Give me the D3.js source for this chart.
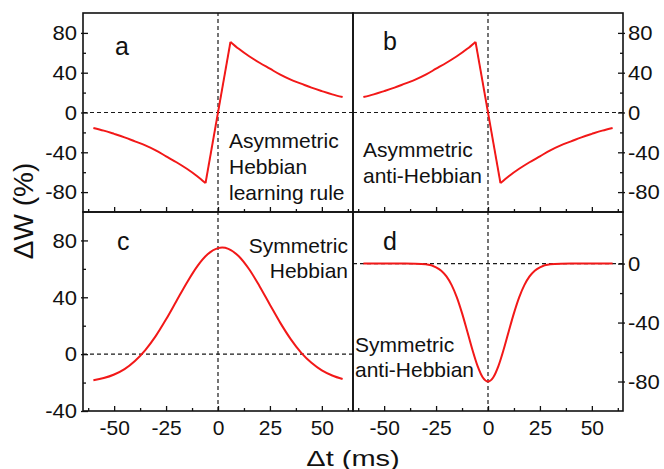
<!DOCTYPE html>
<html>
<head>
<meta charset="utf-8">
<script src="https://cdn.jsdelivr.net/npm/d3@7"></script>
<style>
  body { margin: 0; background: #fff; }
</style>
</head>
<body>
<svg id="chart" width="664" height="469"></svg>
<script>
"use strict";

// time axis (ms) for the two asymmetric rules, jump around zero
const ASYM_DT = [-60, -55, -50, -45, -40, -35, -30, -25, -20, -15, -10, -6, 6, 10, 15, 20, 25, 30, 35, 40, 45, 50, 55, 60];
// panel a: asymmetric Hebbian
const HEBB_DW = [-15.5, -18.2, -21.5, -25, -29, -33, -38, -44, -50, -56.5, -64, -71, 71, 64, 56.5, 50, 44, 38, 33, 29, 25, 21.5, 18.2, 15.5];
// panel b: asymmetric anti-Hebbian
const ANTI_DW = [15.5, 18.2, 21.5, 25, 29, 33, 38, 44, 50, 56.5, 64, 71, -71, -64, -56.5, -50, -44, -38, -33, -29, -25, -21.5, -18.2, -15.5];

// panel c: symmetric Hebbian
const SYM_DT = [-60, -55, -50, -45, -40, -35, -30, -25, -20, -15, -10, -5, 0, 2, 5, 10, 15, 20, 25, 30, 35, 40, 45, 50, 55, 60];
const SYM_DW = [-18.3, -16.8, -14.3, -10.5, -4.8, 2.9, 12.7, 24.5, 37.4, 50.3, 61.8, 70.3, 74.6, 75, 74.1, 68.9, 59.7, 47.8, 34.8, 22, 10.6, 1.1, -6.1, -11.4, -15, -17.5];

// panel d: symmetric anti-Hebbian
const SANTI_DT = [-60, -50, -40, -35, -30, -25, -22.5, -20, -17.5, -15, -12.5, -10, -7.5, -5, -2.5, 0, 2.5, 5, 7.5, 10, 12.5, 15, 17.5, 20, 22.5, 25, 30, 35, 40, 50, 60];
const SANTI_DW = [0, 0, 0, -0.1, -0.5, -2.5, -4.8, -8.7, -14.6, -22.9, -33.6, -45.9, -58.5, -69.6, -77.3, -80, -77.3, -69.6, -58.5, -45.9, -33.6, -22.9, -14.6, -8.7, -4.8, -2.5, -0.5, -0.1, 0, 0, 0];

// ticks
const X_MAJOR = [-50, -25, 0, 25, 50];
const X_MINOR = [-62.5, -37.5, -12.5, 12.5, 37.5, 62.5];
const Y_TOP_MAJOR = [-80, -40, 0, 40, 80];
const Y_TOP_MINOR = [-60, -20, 20, 60];
const Y_C_MAJOR = [-40, 0, 40, 80];
const Y_C_MINOR = [-20, 20, 60];
const Y_D_MAJOR = [-80, -40, 0];
const Y_D_MINOR = [-60, -20, 20];

const FONT = "'Liberation Sans', Arial, sans-serif";
const RED = "#f21818";

const X0 = 83, XM = 353, X1 = 623;
const Y0 = 13, YM = 212, Y1 = 411;

const svg = d3.select("#chart");

const xLeft = d3.scaleLinear().domain([-65, 65]).range([X0, XM]);
const xRight = d3.scaleLinear().domain([-65, 65]).range([XM, X1]);
const yTop = d3.scaleLinear().domain([-100, 100]).range([YM, Y0]);
const yC = d3.scaleLinear().domain([-40, 100]).range([Y1, YM]);
const yD = d3.scaleLinear().domain([-100, 35]).range([Y1, YM]);

// plain hyphen minus like the original figure
const plain = d => String(d);

function addText(str, x, y, size, sx, anchor="start") {
  svg.append("text")
    .attr("transform", `translate(${x},${y}) scale(${sx},1)`)
    .attr("text-anchor", anchor)
    .attr("font-family", FONT)
    .attr("font-size", size)
    .attr("fill", "#111")
    .text(str);
}

function stretchText(sel, sx) {
  sel.each(function() {
    const t = d3.select(this);
    const x = +t.attr("x") || 0;
    const y = +t.attr("y") || 0;
    t.attr("x", 0).attr("y", 0).attr("transform", `translate(${x},${y}) scale(${sx},1)`);
  });
}

function drawPanel(p) {
  const [xa, xb] = p.x.range();
  const [ya, yb] = p.y.range();
  const g = svg.append("g");

  // dashed zero lines
  g.append("line")
    .attr("x1", xa).attr("x2", xb).attr("y1", p.y(0)).attr("y2", p.y(0))
    .attr("stroke", "#1a1a1a").attr("stroke-width", 1.2).attr("stroke-dasharray", "4,3");
  g.append("line")
    .attr("x1", p.x(0)).attr("x2", p.x(0)).attr("y1", ya).attr("y2", yb)
    .attr("stroke", "#1a1a1a").attr("stroke-width", 1.2).attr("stroke-dasharray", "4,3");

  const pts = d3.zip(p.dt, p.dw);
  const line = d3.line().x(d => p.x(d[0])).y(d => p.y(d[1]));
  const stroke = sel => sel.attr("fill", "none").attr("stroke", RED).attr("stroke-width", 2)
    .attr("stroke-linejoin", "round");
  if (p.jump) {
    // smooth branches on each side, straight jump through zero
    const neg = pts.filter(d => d[0] < 0);
    const pos = pts.filter(d => d[0] > 0);
    line.curve(d3.curveMonotoneX);
    g.append("path").datum(neg).attr("d", line).call(stroke);
    g.append("path").datum(pos).attr("d", line).call(stroke);
    line.curve(d3.curveLinear);
    g.append("path").datum([neg[neg.length - 1], pos[0]]).attr("d", line).call(stroke);
  } else {
    line.curve(d3.curveMonotoneX);
    g.append("path").datum(pts).attr("d", line).call(stroke);
  }

  // y axis, ticks cross the spine
  const left = p.side === "left";
  const axisY = left ? d3.axisLeft : d3.axisRight;
  const yg = g.append("g").attr("transform", `translate(${left ? xa : xb},0)`);
  yg.call(axisY(p.y).tickValues(p.majors).tickSize(-5).tickSizeOuter(0)
    .tickPadding(left ? 6 : 5).tickFormat(plain));
  yg.selectAll(".tick line").attr("x1", left ? -2 : 2);
  const ym = g.append("g").attr("transform", `translate(${left ? xa : xb},0)`);
  ym.call(axisY(p.y).tickValues(p.minors).tickSize(-3).tickSizeOuter(0).tickFormat(""));

  // x axis, ticks point inward
  const xg = g.append("g").attr("transform", `translate(0,${ya})`);
  xg.call(d3.axisBottom(p.x).tickValues(X_MAJOR).tickSize(-5).tickSizeOuter(0).tickPadding(9)
    .tickFormat(p.xlabels ? plain : ""));
  const xm = g.append("g").attr("transform", `translate(0,${ya})`);
  xm.call(d3.axisBottom(p.x).tickValues(X_MINOR).tickSize(-3).tickSizeOuter(0).tickFormat(""));

  g.selectAll(".domain").remove();
  g.selectAll(".tick line").attr("stroke", "#111").attr("stroke-width", 1.3);
  g.selectAll(".tick text").attr("font-family", FONT).attr("font-size", 21).attr("fill", "#111");
  stretchText(yg.selectAll(".tick text"), 1.05);

  // frame
  g.append("rect")
    .attr("x", xa).attr("y", yb).attr("width", xb - xa).attr("height", ya - yb)
    .attr("fill", "none").attr("stroke", "#111").attr("stroke-width", 1.6);

  addText(p.id, p.lx, p.ly, 25, 1);
  p.notes.forEach((s, i) => addText(s, p.nx, p.ny + i * p.nstep, 20, 1.05, p.nanchor));
}

const panels = [
  {id: "a", x: xLeft, y: yTop, dt: ASYM_DT, dw: HEBB_DW, jump: true, side: "left",
   majors: Y_TOP_MAJOR, minors: Y_TOP_MINOR, xlabels: false, lx: 115, ly: 55,
   notes: ["Asymmetric", "Hebbian", "learning rule"], nx: 229, ny: 148, nstep: 26, nanchor: "start"},
  {id: "b", x: xRight, y: yTop, dt: ASYM_DT, dw: ANTI_DW, jump: true, side: "right",
   majors: Y_TOP_MAJOR, minors: Y_TOP_MINOR, xlabels: false, lx: 383, ly: 50,
   notes: ["Asymmetric", "anti-Hebbian"], nx: 363, ny: 157, nstep: 26, nanchor: "start"},
  {id: "c", x: xLeft, y: yC, dt: SYM_DT, dw: SYM_DW, jump: false, side: "left",
   majors: Y_C_MAJOR, minors: Y_C_MINOR, xlabels: true, lx: 117, ly: 250,
   notes: ["Symmetric", "Hebbian"], nx: 348, ny: 253, nstep: 25, nanchor: "end"},
  {id: "d", x: xRight, y: yD, dt: SANTI_DT, dw: SANTI_DW, jump: false, side: "right",
   majors: Y_D_MAJOR, minors: Y_D_MINOR, xlabels: true, lx: 383, ly: 250,
   notes: ["Symmetric", "anti-Hebbian"], nx: 355, ny: 352, nstep: 25, nanchor: "start"}
];

panels.forEach(drawPanel);

// axis titles
svg.append("text")
  .attr("transform", "translate(33,211) rotate(-90)")
  .attr("text-anchor", "middle")
  .attr("font-family", FONT)
  .attr("font-size", 28)
  .attr("fill", "#111")
  .text("ΔW (%)");
addText("Δt (ms)", 353, 466, 22, 1.32, "middle");
</script>
</body>
</html>
